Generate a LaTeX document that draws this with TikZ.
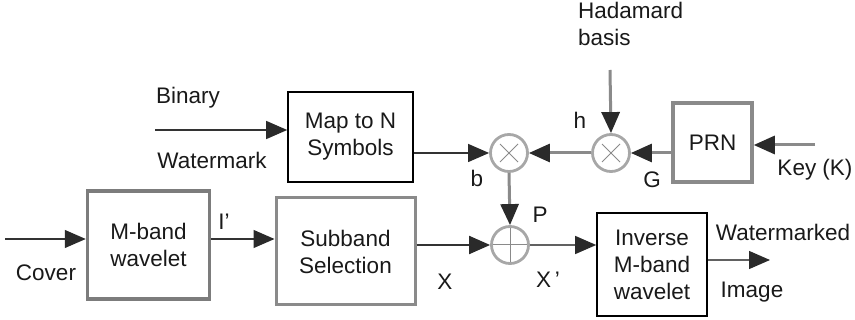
\documentclass[tikz,border=0pt]{standalone}
\usepackage{fontspec}
\setmainfont{Liberation Sans}
\usetikzlibrary{arrows.meta}
\definecolor{rim}{HTML}{8A8A8A}
\definecolor{tip}{HTML}{2A2A2A}
\begin{document}
\begin{tikzpicture}[x=1pt,y=-1pt,
  every node/.style={font=\fontsize{22.5}{27}\selectfont, text=black!90},
  lbl/.style={inner sep=0pt},
  thinbox/.style={draw=black, line width=1.6pt, align=center, inner sep=0pt},
  graybox/.style={draw=rim, line width=3.5pt, align=center, inner sep=0pt},
  opnode/.style={circle, draw=rim!75, line width=2.8pt, minimum size=37pt, inner sep=0pt},
  mul/.style={opnode, path picture={\draw[rim, line width=1pt]
      ([shift={(-9pt,-9pt)}]path picture bounding box.center) -- ([shift={(9pt,9pt)}]path picture bounding box.center)
      ([shift={(-9pt,9pt)}]path picture bounding box.center) -- ([shift={(9pt,-9pt)}]path picture bounding box.center);}},
  addn/.style={opnode, path picture={\draw[rim, line width=1pt]
      (path picture bounding box.north) -- (path picture bounding box.south)
      (path picture bounding box.west) -- (path picture bounding box.east);}},
  tiph/.tip={Triangle[length=21pt,width=18pt,fill=tip,color=tip]},
  thinarr/.style={draw=black!80, line width=1.3pt, -tiph},
  grayarr/.style={draw=rim, line width=3pt, -tiph}
]
\useasboundingbox (0,0) rectangle (855,320);

% boxes
\node[thinbox, minimum width=125pt, minimum height=90pt] (map) at (350.5,137) {Map to N\\Symbols};
\node[graybox, draw=rim!90!black, minimum width=122pt, minimum height=108pt] (mband) at (148.5,245) {M-band\\wavelet};
\node[graybox, line width=3pt, minimum width=139pt, minimum height=107pt] (sub) at (345.5,251.5) {Subband\\Selection};
\node[graybox, minimum width=79pt, minimum height=79pt] (prn) at (712.5,142.5) {PRN};
\node[thinbox, minimum width=110pt, minimum height=103pt] (inv) at (652,264.5) {Inverse\\M-band\\wavelet};

% operators
\node[mul] (m1) at (509,153) {};
\node[mul] (m2) at (611,153) {};
\node[addn] (add) at (510,245) {};

% free ends
\coordinate (bw) at (155,130);
\coordinate (kk) at (815,145);
\coordinate (hb) at (610,70);
\coordinate (cv) at (5,239);
\coordinate (out) at (770,260);

% connectors
\draw[thinarr] (bw) -- (bw -| map.west);
\draw[thinarr] (map.east |- m1) -- (m1.west);
\draw[grayarr] (m2.west) -- (m1.east);
\draw[grayarr] (prn.west |- m2) -- (m2.east);
\draw[grayarr] (kk) -- (kk -| prn.east);
\draw[grayarr] (hb) -- (m2.north);
\draw[grayarr] (m1.south) -- (add.north);
\draw[thinarr, line width=2pt] (sub.east |- add) -- (add.west);
\draw[thinarr, draw=rim!70!black] (add.east) -- (add -| inv.west);
\draw[thinarr, draw=rim!70!black] (inv.east |- out) -- (out);
\draw[thinarr] (cv) -- (cv -| mband.west);
\draw[thinarr] (mband.east |- cv) -- (sub.west |- cv);

% labels
\node[lbl] (tbin) at (188,98) {Binary};
\node[lbl] (twm) at (212,160) {Watermark};
\node[lbl, align=left, anchor=north west] (thad) at (578,2) {Hadamard\\basis};
\node[lbl] (th) at (580,120) {h};
\node[lbl] (tb) at (477,178) {b};
\node[lbl] (tg) at (652,180) {G};
\node[lbl] (tk) at (815,170) {Key (K)};
\node[lbl] (tp) at (540,215) {P};
\node[lbl] (tx) at (445,282) {X};
\node[lbl] (txp) at (548,280) {X\,{\char"0027}};
\node[lbl] (twmk) at (783,232) {Watermarked};
\node[lbl] (timg) at (752,292) {Image};
\node[lbl] (tcov) at (46,273) {Cover};
\node[lbl] (ti) at (224,222) {I{\char"0027}};
\end{tikzpicture}
\end{document}
